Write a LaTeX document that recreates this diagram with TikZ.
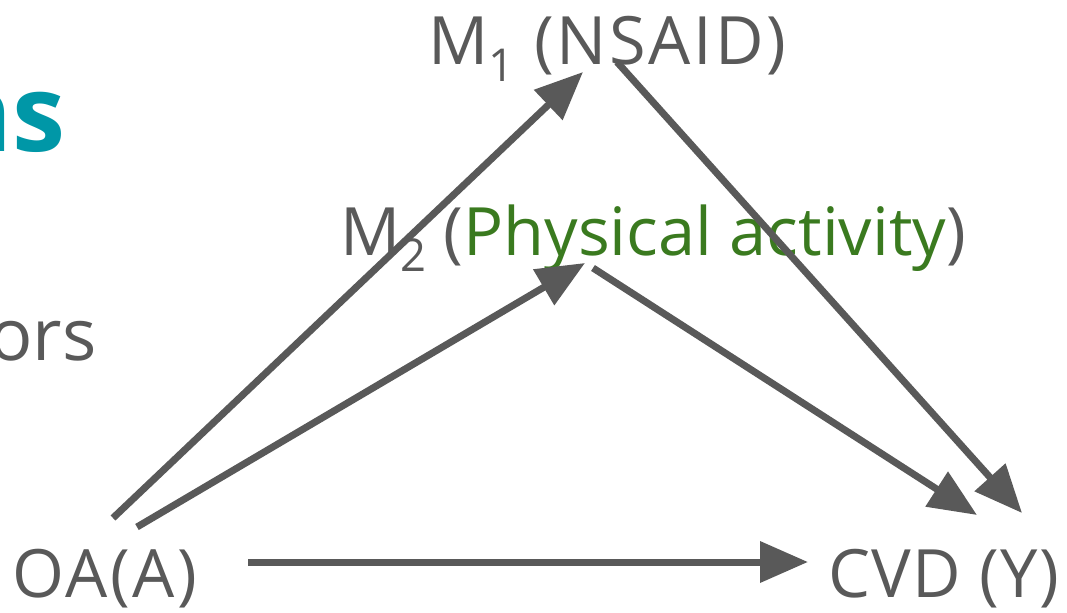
\documentclass[tikz,border=0pt]{standalone}
\usepackage{fontspec}
\setmainfont{Open Sans}
\usetikzlibrary{arrows.meta}
\definecolor{tgray}{HTML}{595959}
\definecolor{tgreen}{HTML}{3A7A1F}
\definecolor{tteal}{HTML}{0097A7}
\newcommand{\lowsub}[1]{\raisebox{-0.25em}{\fontsize{34}{38}\selectfont #1}}
\begin{document}
\begin{tikzpicture}[x=0.75pt,y=-0.75pt,
  lbl/.style={inner sep=0pt, text=tgray, font=\fontsize{50}{56}\selectfont\addfontfeatures{LetterSpace=#1}},
  lbl/.default=4,
  arr/.style={draw=tgray, line width=5.25pt, -{Triangle[length=36pt,width=30pt]}},
 ]
\useasboundingbox (0,0) rectangle (1067,613);
\clip (0,0) rectangle (1067,613);
% partial texts at the left
\node[inner sep=0pt, anchor=base east, text=tteal, font=\fontsize{80}{90}\selectfont\bfseries] (ns) at (66,152) {ns};
\node[lbl, anchor=base east, font=\fontsize{54}{60}\selectfont] (ors) at (97,360) {ors};
% main labels
\node[lbl=4, anchor=base west] (m1) at (428,65) {M\lowsub{1} (NSAID)};
\node[lbl=0, anchor=base west] (m2) at (340,255) {M\lowsub{2} (\textcolor{tgreen}{Physical activity})};
\node[lbl=4, anchor=base west] (oa) at (12,597) {OA(A)};
\node[lbl=2, anchor=base west] (y) at (828,597) {CVD (Y)};
% connector end points
\coordinate (oa1) at (113,518);
\coordinate (oa2) at (137,527);
\coordinate (oa3) at (248,562);
\coordinate (m1in) at (583,72);
\coordinate (m1out) at (617,62);
\coordinate (m2in) at (585,263);
\coordinate (m2out) at (593,268);
\coordinate (yin1) at (1022,513);
\coordinate (yin2) at (977,515);
\coordinate (yin3) at (808,562);
% connectors
\draw[arr] (oa1) -- (m1in);
\draw[arr] (oa2) -- (m2in);
\draw[arr] (m1out) -- (yin1);
\draw[arr] (m2out) -- (yin2);
\draw[arr] (oa3) -- (yin3);
\end{tikzpicture}
\end{document}
